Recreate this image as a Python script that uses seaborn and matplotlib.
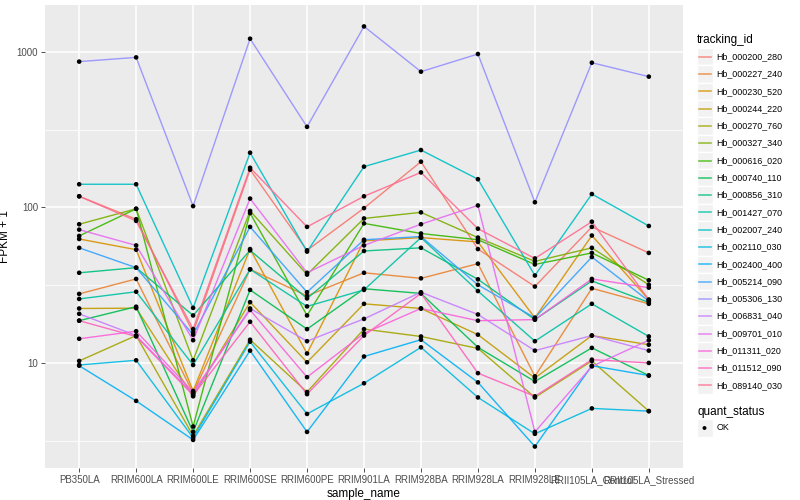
import pandas as pd
import matplotlib
matplotlib.use('Agg')
import matplotlib.pyplot as plt
import seaborn as sns
from matplotlib.patches import Rectangle
from matplotlib.ticker import FixedLocator, NullFormatter

# samples on the x axis, in plot order
samples = ['PB350LA', 'RRIM600LA', 'RRIM600LE', 'RRIM600SE', 'RRIM600PE', 'RRIM901LA',
           'RRIM928BA', 'RRIM928LA', 'RRIM928LE', 'RRII105LA_Control', 'RRII105LA_Stressed']

tracking_ids = ['Hb_000200_280', 'Hb_000227_240', 'Hb_000230_520', 'Hb_000244_220',
                'Hb_000270_760', 'Hb_000327_340', 'Hb_000616_020', 'Hb_000740_110',
                'Hb_000856_310', 'Hb_001427_070', 'Hb_002007_240', 'Hb_002110_030',
                'Hb_002400_400', 'Hb_005214_090', 'Hb_005306_130', 'Hb_006831_040',
                'Hb_009701_010', 'Hb_011311_020', 'Hb_011512_090', 'Hb_089140_030']

# FPKM + 1 per gene, one value per sample
hb_000200_280 = [118, 84, 15.7, 175, 53, 99, 197, 54, 31, 75, 51]
hb_000227_240 = [27.8, 34.7, 6.4, 40, 27, 38, 35, 43.5, 8.2, 30.2, 24]
hb_000230_520 = [62.7, 53.5, 6.6, 54, 11.5, 61, 64, 60, 19.5, 66, 25.5]
hb_000244_220 = [22.4, 22.5, 6.1, 24.6, 10.1, 24, 22.4, 15.2, 8.0, 15, 13.1]
hb_000270_760 = [10.3, 15, 3.4, 14.1, 6.5, 16.5, 14.8, 12.4, 6.0, 10.3, 4.9]
hb_000327_340 = [78, 98, 10.4, 95, 37, 85, 93, 64, 45, 55, 31.8]
hb_000616_020 = [65.6, 98, 3.9, 92, 20.2, 79, 68, 62, 43, 51, 34]
hb_000740_110 = [18.7, 23, 3.6, 29.5, 16.5, 30, 28, 12.6, 7.6, 12.5, 8.3]
hb_000856_310 = [38, 41, 20.2, 53, 26, 52.5, 55, 34.5, 19, 33.7, 24.5]
hb_001427_070 = [25.8, 28.7, 9.7, 40, 23.1, 29.5, 64, 29, 13.8, 24, 14.8]
hb_002007_240 = [141, 141, 22.6, 225, 52, 183, 234, 152, 36.5, 122, 76]
hb_002110_030 = [9.7, 10.4, 3.3, 13.7, 4.7, 7.4, 12.6, 6.0, 3.5, 5.1, 4.9]
hb_002400_400 = [9.6, 5.7, 3.2, 12, 3.6, 11, 14.1, 7.5, 2.9, 9.6, 8.3]
hb_005214_090 = [55, 41, 15.2, 75, 28.5, 62, 65, 31.8, 19.5, 48, 25]
hb_005306_130 = [867, 923, 102, 1217, 330, 1460, 747, 970, 108, 853, 694]
hb_006831_040 = [20.7, 15, 6.3, 22.4, 13.8, 19.2, 28.5, 20.5, 12, 15, 12]
hb_009701_010 = [72, 57, 14, 114, 38, 57, 78, 103, 3.6, 9.5, 14]
hb_011311_020 = [14.3, 16, 6.5, 21.9, 8.1, 15.5, 22.4, 18.7, 19, 34.7, 30.5]
hb_011512_090 = [18.7, 14.8, 6.2, 18.4, 6.3, 15, 28, 8.6, 6.1, 10.5, 10]
hb_089140_030 = [118, 82, 16.5, 180, 75, 118, 168, 73, 47, 81, 25.5]

series = [hb_000200_280, hb_000227_240, hb_000230_520, hb_000244_220, hb_000270_760,
          hb_000327_340, hb_000616_020, hb_000740_110, hb_000856_310, hb_001427_070,
          hb_002007_240, hb_002110_030, hb_002400_400, hb_005214_090, hb_005306_130,
          hb_006831_040, hb_009701_010, hb_011311_020, hb_011512_090, hb_089140_030]

# ggplot2 default hue palette for 20 levels
colors = ['#F8766D', '#EA8331', '#D89000', '#C09B00', '#A3A500', '#7CAE00', '#39B600',
          '#00BB4E', '#00BF7D', '#00C1A3', '#00BFC4', '#00BAE0', '#00B0F6', '#35A2FF',
          '#9590FF', '#C77CFF', '#E76BF3', '#FA62DB', '#FF62BC', '#FF6C91']

rows = []
for tid, vals in zip(tracking_ids, series):
    for s, v in zip(samples, vals):
        rows.append({'tracking_id': tid, 'sample_name': s, 'fpkm': v, 'quant_status': 'OK'})
df = pd.DataFrame(rows)

sns.set_style({'axes.facecolor': '#EBEBEB', 'grid.color': 'white', 'axes.edgecolor': 'none'})
plt.rcParams['font.family'] = ['Liberation Sans', 'DejaVu Sans']

fig = plt.figure(figsize=(8, 5), dpi=100)
ax = fig.add_axes([45 / 800, 32 / 500, 638 / 800, 463 / 500])

sns.lineplot(data=df, x='sample_name', y='fpkm', hue='tracking_id', palette=colors,
             estimator=None, errorbar=None, sort=False, legend=False, lw=1.0, alpha=0.9, ax=ax)
sns.scatterplot(data=df, x='sample_name', y='fpkm', color='black', s=11, edgecolor='none',
                legend=False, zorder=3, ax=ax)

ax.set_yscale('log')
ax.set_ylim(2.11, 2005)
ax.set_xlim(-0.6, len(samples) - 0.4)
ax.yaxis.set_major_locator(FixedLocator([10, 100, 1000]))
ax.set_yticklabels(['10', '100', '1000'])
ax.yaxis.set_minor_locator(FixedLocator([10 ** 0.5, 10 ** 1.5, 10 ** 2.5]))
ax.yaxis.set_minor_formatter(NullFormatter())
ax.grid(which='major', color='white', lw=1.1)
ax.grid(which='minor', axis='y', color='white', lw=0.55)
ax.set_axisbelow(True)
for sp in ax.spines.values():
    sp.set_visible(False)
ax.tick_params(which='major', length=3, width=0.6, color='#333333', labelcolor='#4D4D4D',
               labelsize=7, pad=2)
ax.tick_params(which='minor', length=0)
ax.set_xlabel('sample_name', fontsize=8.5, labelpad=2)
ax.set_ylabel('FPKM + 1', fontsize=8.5, labelpad=4)

# ggplot-like legends on the right
lax = fig.add_axes([0, 0, 1, 1])
lax.set_xlim(0, 800)
lax.set_ylim(500, 0)
lax.axis('off')
lax.text(697, 40, 'tracking_id', fontsize=8.5, va='center', ha='left')
y0, dy = 56.7, 17.3
for i, (tid, c) in enumerate(zip(tracking_ids, colors)):
    y = y0 + i * dy
    lax.add_patch(Rectangle((697, y - dy / 2), 15.5, dy, facecolor='#F2F2F2', edgecolor='white', lw=1))
    lax.plot([698.5, 710.5], [y, y], color=c, lw=1.2, alpha=0.75)
    lax.text(716.5, y, tid, fontsize=6.4, va='center', ha='left')
lax.text(697, 412, 'quant_status', fontsize=8.5, va='center', ha='left')
lax.add_patch(Rectangle((697, 428 - dy / 2), 15.5, dy, facecolor='#F2F2F2', edgecolor='white', lw=1))
lax.scatter([704.5], [428], s=8, color='black', edgecolor='none')
lax.text(716.5, 428, 'OK', fontsize=6.4, va='center', ha='left')

fig.savefig('out.png', dpi=100, facecolor='white')
